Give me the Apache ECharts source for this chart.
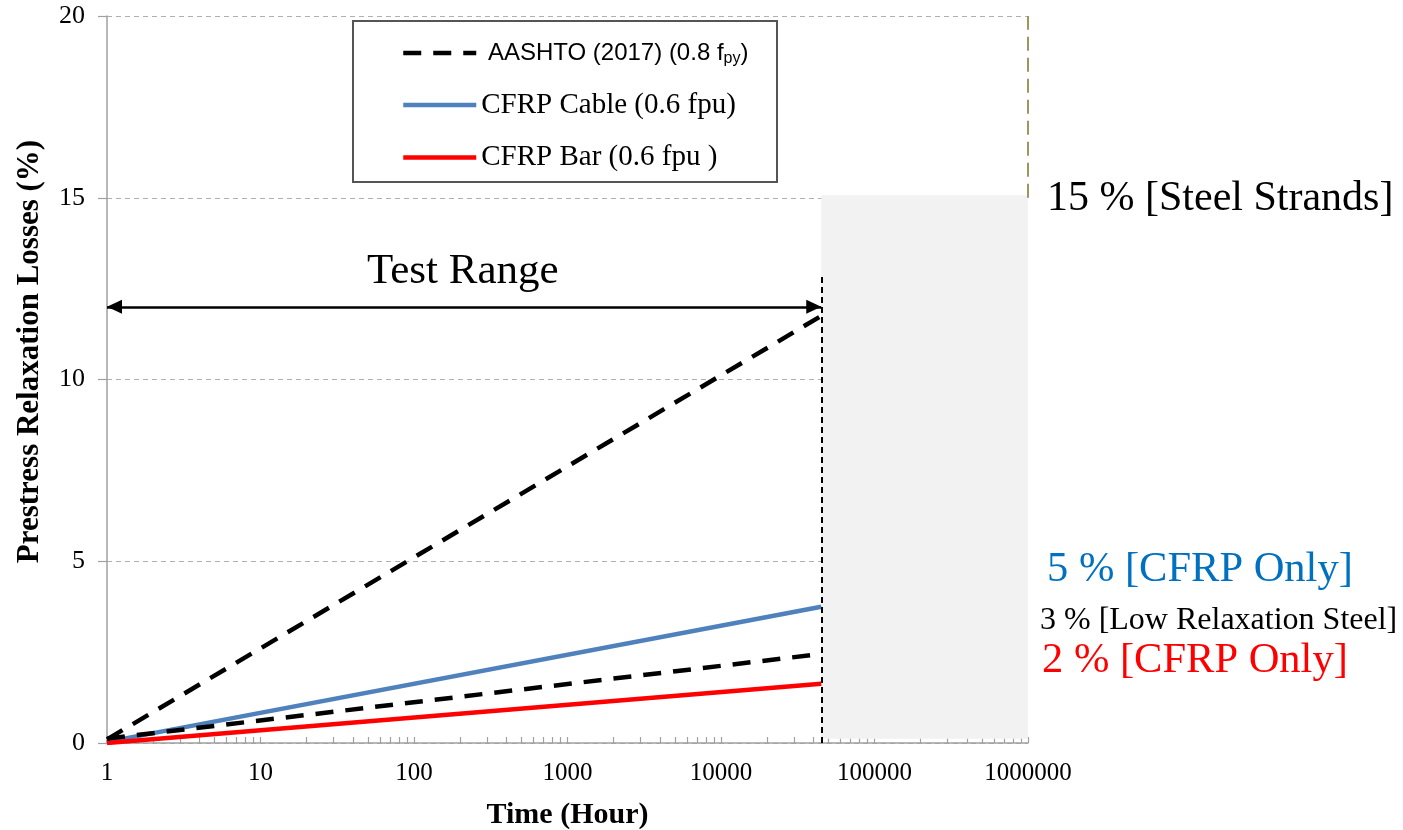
<!DOCTYPE html>
<html>
<head>
<meta charset="utf-8">
<title>Prestress Relaxation Losses</title>
<script src="https://cdn.jsdelivr.net/npm/echarts@6/dist/echarts.min.js"></script>
<style>
html,body{margin:0;padding:0;background:#fff;}
#main{width:1403px;height:830px;}
</style>
</head>
<body>
<div id="main"></div>
<script>
// time (hours), log axis
var timeHours = [1, 45000];
// relaxation losses (%)
var aashtoHigh = [0.1, 11.75];
var aashtoLow = [0.12, 2.45];
var cfrpCable = [0.03, 3.75];
var cfrpBar = [0, 1.63];

var xDecades = [1, 10, 100, 1000, 10000, 100000, 1000000];
var testEnd = 45000;

var xTickValues = [];
for (var d = 0; d < xDecades.length - 1; d++) {
	for (var k = 1; k < 10; k++) xTickValues.push(xDecades[d] * k);
}
xTickValues.push(xDecades[xDecades.length - 1]);

function pairs(xs, ys) {
	return xs.map(function (x, i) { return [x, ys[i]]; });
}

var serif = 'Liberation Serif';
var aashtoName = 'AASHTO (2017) (0.8 fpy)';

var myChart = echarts.init(document.getElementById('main'));

myChart.setOption({
	animation: false,
	grid: { left: 107, right: 375, top: 16, bottom: 87, outerBoundsMode: 'none' },
	legend: {
		orient: 'vertical',
		left: 396,
		top: 36,
		itemWidth: 73,
		itemHeight: 24,
		itemGap: 23.5,
		itemStyle: { opacity: 0 },
		lineStyle: { width: 4.5 },
		data: [aashtoName, 'CFRP Cable (0.6 fpu)', 'CFRP Bar (0.6 fpu )'],
		formatter: function (name) {
			if (name === aashtoName) {
				return '{a| AASHTO (2017) (0.8 f}{s|py}{a|)}';
			}
			return '{b|' + name + '}';
		},
		textStyle: {
			rich: {
				a: { fontFamily: 'Liberation Sans', fontSize: 24, color: '#000' },
				s: { fontFamily: 'Liberation Sans', fontSize: 16, color: '#000', padding: [12, 0, 0, 0] },
				b: { fontFamily: serif, fontSize: 29, color: '#000' }
			}
		}
	},
	xAxis: {
		type: 'log',
		logBase: 10,
		min: 1,
		max: 1000000,
		splitNumber: 6,
		axisLine: { lineStyle: { color: '#a0a0a0', width: 1.5 } },
		axisTick: {
			inside: true,
			length: 6,
			customValues: xTickValues,
			lineStyle: { color: '#a0a0a0', width: 1.2 }
		},
		axisLabel: {
			customValues: xDecades,
			margin: 18,
			fontFamily: serif,
			fontSize: 25,
			color: '#000',
			formatter: function (v) { return String(Math.round(v)); }
		},
		splitLine: { show: false },
		name: 'Time (Hour)',
		nameLocation: 'middle',
		nameGap: 57,
		nameTextStyle: { fontFamily: serif, fontSize: 30, fontWeight: 'bold', color: '#000' }
	},
	yAxis: {
		type: 'value',
		min: 0,
		max: 20,
		interval: 5,
		axisLine: { show: true, lineStyle: { color: '#a0a0a0', width: 1.5 } },
		axisTick: { show: true, length: 9, lineStyle: { color: '#a0a0a0', width: 1.2 } },
		axisLabel: { margin: 22, fontFamily: serif, fontSize: 26, color: '#000' },
		splitLine: { lineStyle: { color: '#b0b0b0', type: [5, 4], width: 1 } },
		name: 'Prestress Relaxation Losses (%)',
		nameLocation: 'middle',
		nameGap: 62,
		nameTextStyle: { fontFamily: serif, fontSize: 31, fontWeight: 'bold', color: '#000', padding: [0, 0, 0, 56] }
	},
	series: [
		{
			name: aashtoName,
			type: 'line',
			symbol: 'none',
			data: pairs(timeHours, aashtoHigh),
			lineStyle: { color: '#000', width: 4.5, type: [18, 12] },
			itemStyle: { color: '#000' },
			z: 3
		},
		{
			name: aashtoName,
			type: 'line',
			symbol: 'none',
			data: pairs(timeHours, aashtoLow),
			lineStyle: { color: '#000', width: 4.5, type: [18, 12] },
			itemStyle: { color: '#000' },
			z: 3
		},
		{
			name: 'CFRP Cable (0.6 fpu)',
			type: 'line',
			symbol: 'none',
			data: pairs(timeHours, cfrpCable),
			lineStyle: { color: '#4F81BD', width: 4.5 },
			itemStyle: { color: '#4F81BD' },
			z: 2
		},
		{
			name: 'CFRP Bar (0.6 fpu )',
			type: 'line',
			symbol: 'none',
			data: pairs(timeHours, cfrpBar),
			lineStyle: { color: '#FF0000', width: 4.5 },
			itemStyle: { color: '#FF0000' },
			z: 2,
			markArea: {
				silent: true,
				itemStyle: { color: '#F2F2F2' },
				data: [[{ coord: [testEnd, 15.07] }, { coord: [1000000, 0.12] }]]
			},
			markLine: {
				silent: true,
				symbol: 'none',
				label: { show: false },
				data: [
					[
						{ coord: [1, 12], symbol: 'triangle', symbolSize: [14, 15], symbolOffset: [0, 7.5] },
						{ coord: [testEnd, 12], symbol: 'triangle', symbolSize: [14, 15], symbolOffset: [0, 7.5] }
					],
					[
						{ coord: [testEnd, 0], lineStyle: { color: '#000', width: 2, type: [6, 4] } },
						{ coord: [testEnd, 12.85] }
					],
					[
						{ coord: [1000000, 15], lineStyle: { color: '#9e9560', width: 2, type: [14, 7] } },
						{ coord: [1000000, 20] }
					]
				],
				lineStyle: { color: '#000', width: 2.5, type: 'solid' }
			}
		}
	],
	graphic: [
		{
			type: 'rect',
			left: 352,
			top: 20,
			z: 1,
			shape: { width: 424, height: 161 },
			style: { fill: '#fff', stroke: '#555', lineWidth: 2 }
		},
		{
			type: 'text',
			left: 367,
			top: 250,
			style: { text: 'Test Range', font: '43px "Liberation Serif"', fill: '#000' }
		},
		{
			type: 'text',
			left: 1047,
			top: 178,
			style: { text: '15 % [Steel Strands]', font: '42px "Liberation Serif"', fill: '#000' }
		},
		{
			type: 'text',
			left: 1047,
			top: 548,
			style: { text: '5 % [CFRP Only]', font: '42.5px "Liberation Serif"', fill: '#0070C0' }
		},
		{
			type: 'text',
			left: 1040,
			top: 605,
			style: { text: '3 % [Low Relaxation Steel]', font: '32px "Liberation Serif"', fill: '#000' }
		},
		{
			type: 'text',
			left: 1042,
			top: 639,
			style: { text: '2 % [CFRP Only]', font: '42.5px "Liberation Serif"', fill: '#FF0000' }
		}
	]
});

window.onresize = function () {
	myChart.resize();
};
</script>
</body>
</html>
